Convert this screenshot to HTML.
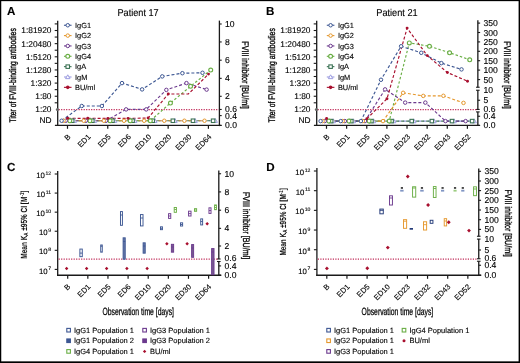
<!DOCTYPE html><html><head><meta charset="utf-8"><style>html,body{margin:0;padding:0;background:#fff;}svg{display:block;will-change:transform;text-rendering:geometricPrecision;}</style></head><body>
<svg width="520" height="363" viewBox="0 0 520 363" font-family='"Liberation Sans", sans-serif'>
<rect x="0" y="0" width="520" height="363" fill="#fff"/>
<text x="7.00" y="15.30" font-size="11.6" text-anchor="start" font-weight="bold" fill="#000" stroke="#000" stroke-width="0.12">A</text>
<text x="117.50" y="15.80" font-size="10.0" text-anchor="start" font-weight="normal" fill="#000" stroke="#000" stroke-width="0.12" textLength="41.20" lengthAdjust="spacingAndGlyphs">Patient 17</text>
<text x="0.00" y="0.00" font-size="9.6" text-anchor="start" font-weight="normal" fill="#000" stroke="#000" stroke-width="0.32" textLength="94.30" lengthAdjust="spacingAndGlyphs" transform="translate(15.50,122.5) rotate(-90)">Titer of FVIII-binding antibodies</text>
<line x1="57.70" y1="20.80" x2="57.70" y2="126.10" stroke="#1a1a1a" stroke-width="1.3" stroke-linecap="butt"/>
<line x1="54.70" y1="30.50" x2="57.70" y2="30.50" stroke="#1a1a1a" stroke-width="1.1" stroke-linecap="butt"/>
<text x="51.50" y="33.45" font-size="8.35" text-anchor="end" font-weight="normal" fill="#000" stroke="#000" stroke-width="0.12">1:81920</text>
<line x1="54.70" y1="43.65" x2="57.70" y2="43.65" stroke="#1a1a1a" stroke-width="1.1" stroke-linecap="butt"/>
<text x="51.50" y="46.60" font-size="8.35" text-anchor="end" font-weight="normal" fill="#000" stroke="#000" stroke-width="0.12">1:20480</text>
<line x1="54.70" y1="56.80" x2="57.70" y2="56.80" stroke="#1a1a1a" stroke-width="1.1" stroke-linecap="butt"/>
<text x="51.50" y="59.75" font-size="8.35" text-anchor="end" font-weight="normal" fill="#000" stroke="#000" stroke-width="0.12">1:5120</text>
<line x1="54.70" y1="69.95" x2="57.70" y2="69.95" stroke="#1a1a1a" stroke-width="1.1" stroke-linecap="butt"/>
<text x="51.50" y="72.90" font-size="8.35" text-anchor="end" font-weight="normal" fill="#000" stroke="#000" stroke-width="0.12">1:1280</text>
<line x1="54.70" y1="83.10" x2="57.70" y2="83.10" stroke="#1a1a1a" stroke-width="1.1" stroke-linecap="butt"/>
<text x="51.50" y="86.05" font-size="8.35" text-anchor="end" font-weight="normal" fill="#000" stroke="#000" stroke-width="0.12">1:320</text>
<line x1="54.70" y1="96.25" x2="57.70" y2="96.25" stroke="#1a1a1a" stroke-width="1.1" stroke-linecap="butt"/>
<text x="51.50" y="99.20" font-size="8.35" text-anchor="end" font-weight="normal" fill="#000" stroke="#000" stroke-width="0.12">1:80</text>
<text x="51.50" y="112.35" font-size="8.35" text-anchor="end" font-weight="normal" fill="#000" stroke="#000" stroke-width="0.12">1:20</text>
<line x1="54.70" y1="23.90" x2="57.70" y2="23.90" stroke="#1a1a1a" stroke-width="1.1" stroke-linecap="butt"/>
<line x1="54.70" y1="37.05" x2="57.70" y2="37.05" stroke="#1a1a1a" stroke-width="1.1" stroke-linecap="butt"/>
<line x1="54.70" y1="50.20" x2="57.70" y2="50.20" stroke="#1a1a1a" stroke-width="1.1" stroke-linecap="butt"/>
<line x1="54.70" y1="63.35" x2="57.70" y2="63.35" stroke="#1a1a1a" stroke-width="1.1" stroke-linecap="butt"/>
<line x1="54.70" y1="76.50" x2="57.70" y2="76.50" stroke="#1a1a1a" stroke-width="1.1" stroke-linecap="butt"/>
<line x1="54.70" y1="89.65" x2="57.70" y2="89.65" stroke="#1a1a1a" stroke-width="1.1" stroke-linecap="butt"/>
<line x1="54.70" y1="102.80" x2="57.70" y2="102.80" stroke="#1a1a1a" stroke-width="1.1" stroke-linecap="butt"/>
<text x="51.50" y="123.00" font-size="8.35" text-anchor="end" font-weight="normal" fill="#000" stroke="#000" stroke-width="0.12">ND</text>
<line x1="54.90" y1="125.45" x2="221.40" y2="125.45" stroke="#1a1a1a" stroke-width="1.3" stroke-linecap="butt"/>
<line x1="67.50" y1="125.40" x2="67.50" y2="128.80" stroke="#1a1a1a" stroke-width="1.2" stroke-linecap="butt"/>
<text x="0.00" y="0.00" font-size="7.6" text-anchor="end" font-weight="normal" fill="#000" stroke="#000" stroke-width="0.12" transform="translate(71.10,137.3) rotate(-45)">B</text>
<line x1="87.63" y1="125.40" x2="87.63" y2="128.80" stroke="#1a1a1a" stroke-width="1.2" stroke-linecap="butt"/>
<text x="0.00" y="0.00" font-size="7.6" text-anchor="end" font-weight="normal" fill="#000" stroke="#000" stroke-width="0.12" transform="translate(91.23,137.3) rotate(-45)">ED1</text>
<line x1="107.76" y1="125.40" x2="107.76" y2="128.80" stroke="#1a1a1a" stroke-width="1.2" stroke-linecap="butt"/>
<text x="0.00" y="0.00" font-size="7.6" text-anchor="end" font-weight="normal" fill="#000" stroke="#000" stroke-width="0.12" transform="translate(111.36,137.3) rotate(-45)">ED5</text>
<line x1="127.89" y1="125.40" x2="127.89" y2="128.80" stroke="#1a1a1a" stroke-width="1.2" stroke-linecap="butt"/>
<text x="0.00" y="0.00" font-size="7.6" text-anchor="end" font-weight="normal" fill="#000" stroke="#000" stroke-width="0.12" transform="translate(131.49,137.3) rotate(-45)">ED6</text>
<line x1="148.02" y1="125.40" x2="148.02" y2="128.80" stroke="#1a1a1a" stroke-width="1.2" stroke-linecap="butt"/>
<text x="0.00" y="0.00" font-size="7.6" text-anchor="end" font-weight="normal" fill="#000" stroke="#000" stroke-width="0.12" transform="translate(151.62,137.3) rotate(-45)">ED10</text>
<line x1="168.15" y1="125.40" x2="168.15" y2="128.80" stroke="#1a1a1a" stroke-width="1.2" stroke-linecap="butt"/>
<text x="0.00" y="0.00" font-size="7.6" text-anchor="end" font-weight="normal" fill="#000" stroke="#000" stroke-width="0.12" transform="translate(171.75,137.3) rotate(-45)">ED20</text>
<line x1="188.28" y1="125.40" x2="188.28" y2="128.80" stroke="#1a1a1a" stroke-width="1.2" stroke-linecap="butt"/>
<text x="0.00" y="0.00" font-size="7.6" text-anchor="end" font-weight="normal" fill="#000" stroke="#000" stroke-width="0.12" transform="translate(191.88,137.3) rotate(-45)">ED30</text>
<line x1="208.41" y1="125.40" x2="208.41" y2="128.80" stroke="#1a1a1a" stroke-width="1.2" stroke-linecap="butt"/>
<text x="0.00" y="0.00" font-size="7.6" text-anchor="end" font-weight="normal" fill="#000" stroke="#000" stroke-width="0.12" transform="translate(212.01,137.3) rotate(-45)">ED64</text>
<line x1="219.40" y1="20.60" x2="219.40" y2="126.10" stroke="#1a1a1a" stroke-width="1.3" stroke-linecap="butt"/>
<line x1="219.40" y1="24.00" x2="221.70" y2="24.00" stroke="#1a1a1a" stroke-width="1.1" stroke-linecap="butt"/>
<text x="225.10" y="27.00" font-size="8.6" text-anchor="start" font-weight="normal" fill="#000" stroke="#000" stroke-width="0.12">10</text>
<line x1="219.40" y1="41.95" x2="221.70" y2="41.95" stroke="#1a1a1a" stroke-width="1.1" stroke-linecap="butt"/>
<text x="225.10" y="44.95" font-size="8.6" text-anchor="start" font-weight="normal" fill="#000" stroke="#000" stroke-width="0.12">8</text>
<line x1="219.40" y1="60.20" x2="221.70" y2="60.20" stroke="#1a1a1a" stroke-width="1.1" stroke-linecap="butt"/>
<text x="225.10" y="63.20" font-size="8.6" text-anchor="start" font-weight="normal" fill="#000" stroke="#000" stroke-width="0.12">6</text>
<line x1="219.40" y1="78.35" x2="221.70" y2="78.35" stroke="#1a1a1a" stroke-width="1.1" stroke-linecap="butt"/>
<text x="225.10" y="81.35" font-size="8.6" text-anchor="start" font-weight="normal" fill="#000" stroke="#000" stroke-width="0.12">4</text>
<line x1="219.40" y1="96.30" x2="221.70" y2="96.30" stroke="#1a1a1a" stroke-width="1.1" stroke-linecap="butt"/>
<text x="225.10" y="99.30" font-size="8.6" text-anchor="start" font-weight="normal" fill="#000" stroke="#000" stroke-width="0.12">2</text>
<line x1="219.40" y1="109.45" x2="221.70" y2="109.45" stroke="#1a1a1a" stroke-width="1.1" stroke-linecap="butt"/>
<text x="225.10" y="111.85" font-size="8.6" text-anchor="start" font-weight="normal" fill="#000" stroke="#000" stroke-width="0.12">0.6</text>
<line x1="219.40" y1="115.60" x2="221.70" y2="115.60" stroke="#1a1a1a" stroke-width="1.1" stroke-linecap="butt"/>
<text x="225.10" y="118.60" font-size="8.6" text-anchor="start" font-weight="normal" fill="#000" stroke="#000" stroke-width="0.12">0.4</text>
<line x1="219.40" y1="125.45" x2="221.70" y2="125.45" stroke="#1a1a1a" stroke-width="1.1" stroke-linecap="butt"/>
<text x="225.10" y="128.45" font-size="8.6" text-anchor="start" font-weight="normal" fill="#000" stroke="#000" stroke-width="0.12">0.0</text>
<text x="0.00" y="0.00" font-size="9.6" text-anchor="start" font-weight="normal" fill="#000" stroke="#000" stroke-width="0.32" textLength="67.50" lengthAdjust="spacingAndGlyphs" transform="translate(242.20,41.3) rotate(90)">FVIII inhibitor [BU/ml]</text>
<line x1="58.60" y1="109.55" x2="218.80" y2="109.55" stroke="#c02a58" stroke-width="1.25" stroke-linecap="butt" stroke-dasharray="1.2,1.3"/>
<circle cx="57.40" cy="109.55" r="1.55" fill="#666"/>
<line x1="63.95" y1="25.25" x2="71.55" y2="25.25" stroke="#3d5793" stroke-width="1.1" stroke-linecap="butt"/>
<circle cx="67.75" cy="25.25" r="1.75" fill="#fff" stroke="#3d5793" stroke-width="1.0"/>
<text x="75.05" y="27.90" font-size="7.4" text-anchor="start" font-weight="normal" fill="#000" stroke="#000" stroke-width="0.12">IgG1</text>
<line x1="63.95" y1="35.60" x2="71.55" y2="35.60" stroke="#e5982e" stroke-width="1.1" stroke-linecap="butt"/>
<circle cx="67.75" cy="35.60" r="1.75" fill="#fff" stroke="#e5982e" stroke-width="1.0"/>
<text x="75.05" y="38.25" font-size="7.4" text-anchor="start" font-weight="normal" fill="#000" stroke="#000" stroke-width="0.12">IgG2</text>
<line x1="63.95" y1="45.95" x2="71.55" y2="45.95" stroke="#6c3a8e" stroke-width="1.1" stroke-linecap="butt"/>
<circle cx="67.75" cy="45.95" r="1.75" fill="#fff" stroke="#6c3a8e" stroke-width="1.0"/>
<text x="75.05" y="48.60" font-size="7.4" text-anchor="start" font-weight="normal" fill="#000" stroke="#000" stroke-width="0.12">IgG3</text>
<line x1="63.95" y1="56.30" x2="71.55" y2="56.30" stroke="#6aae45" stroke-width="1.1" stroke-linecap="butt"/>
<circle cx="67.75" cy="56.30" r="1.95" fill="#fff" stroke="#6aae45" stroke-width="1.15"/>
<text x="75.05" y="58.95" font-size="7.4" text-anchor="start" font-weight="normal" fill="#000" stroke="#000" stroke-width="0.12">IgG4</text>
<line x1="63.95" y1="66.65" x2="71.55" y2="66.65" stroke="#3c7355" stroke-width="1.1" stroke-linecap="butt"/>
<rect x="66.00" y="64.90" width="3.50" height="3.50" fill="#fff" stroke="#3c7355" stroke-width="1.1"/>
<text x="75.05" y="69.30" font-size="7.4" text-anchor="start" font-weight="normal" fill="#000" stroke="#000" stroke-width="0.12">IgA</text>
<line x1="63.95" y1="77.00" x2="71.55" y2="77.00" stroke="#9c9ce0" stroke-width="1.1" stroke-linecap="butt"/>
<polygon points="67.75,74.80 69.95,78.65 65.55,78.65" fill="#fff" stroke="#9c9ce0" stroke-width="1.0"/>
<text x="75.05" y="79.65" font-size="7.4" text-anchor="start" font-weight="normal" fill="#000" stroke="#000" stroke-width="0.12">IgM</text>
<line x1="63.95" y1="87.35" x2="71.55" y2="87.35" stroke="#a80f2e" stroke-width="1.1" stroke-linecap="butt"/>
<circle cx="67.75" cy="87.35" r="1.8" fill="#a80f2e"/>
<text x="75.05" y="90.00" font-size="7.4" text-anchor="start" font-weight="normal" fill="#000" stroke="#000" stroke-width="0.12">BU/ml</text>
<polyline points="74.30,120.75 94.43,120.75 114.56,120.75 134.69,120.75 154.82,120.75 174.95,120.75 195.08,120.75 215.21,120.75" fill="none" stroke="#9c9ce0" stroke-width="1.15" stroke-dasharray="3,2"/>
<polyline points="72.20,120.75 92.33,120.75 112.46,120.75 132.59,120.75 152.72,120.75 172.85,120.75 192.98,120.75 213.11,120.75" fill="none" stroke="#3c7355" stroke-width="1.15" stroke-dasharray="3,2"/>
<polyline points="69.80,120.75 89.93,120.75 110.06,120.75 130.19,120.75 150.32,120.75 170.45,103.00 190.58,86.25 210.71,70.00" fill="none" stroke="#6aae45" stroke-width="1.15" stroke-dasharray="2.5,2"/>
<polyline points="65.70,120.75 85.83,120.75 105.96,120.75 126.09,109.40 146.22,109.40 166.35,89.90 186.48,83.10 206.61,89.60" fill="none" stroke="#6c3a8e" stroke-width="1.15" stroke-dasharray="3,2"/>
<polyline points="63.60,120.75 83.73,120.75 103.86,120.75 123.99,120.75 144.12,120.75 164.25,120.75 184.38,120.75 204.51,120.75" fill="none" stroke="#e5982e" stroke-width="1.15" stroke-dasharray="3,2"/>
<polyline points="61.60,120.75 81.73,106.00 101.86,106.00 121.99,83.10 142.12,89.40 162.25,76.40 182.38,73.20 202.51,72.80" fill="none" stroke="#3d5793" stroke-width="1.15" stroke-dasharray="3,2"/>
<polyline points="67.60,118.30 87.73,118.30 107.86,118.40 127.99,118.40 148.12,118.00 168.25,94.00 188.38,94.00 208.51,74.10" fill="none" stroke="#a80f2e" stroke-width="1.15" stroke-dasharray="3,2"/>
<polygon points="74.30,118.55 76.50,122.40 72.10,122.40" fill="#fff" stroke="#9c9ce0" stroke-width="1.0"/>
<polygon points="94.43,118.55 96.63,122.40 92.23,122.40" fill="#fff" stroke="#9c9ce0" stroke-width="1.0"/>
<polygon points="114.56,118.55 116.76,122.40 112.36,122.40" fill="#fff" stroke="#9c9ce0" stroke-width="1.0"/>
<polygon points="134.69,118.55 136.89,122.40 132.49,122.40" fill="#fff" stroke="#9c9ce0" stroke-width="1.0"/>
<polygon points="154.82,118.55 157.02,122.40 152.62,122.40" fill="#fff" stroke="#9c9ce0" stroke-width="1.0"/>
<polygon points="174.95,118.55 177.15,122.40 172.75,122.40" fill="#fff" stroke="#9c9ce0" stroke-width="1.0"/>
<polygon points="195.08,118.55 197.28,122.40 192.88,122.40" fill="#fff" stroke="#9c9ce0" stroke-width="1.0"/>
<polygon points="215.21,118.55 217.41,122.40 213.01,122.40" fill="#fff" stroke="#9c9ce0" stroke-width="1.0"/>
<rect x="70.45" y="119.00" width="3.50" height="3.50" fill="#fff" stroke="#3c7355" stroke-width="1.1"/>
<rect x="90.58" y="119.00" width="3.50" height="3.50" fill="#fff" stroke="#3c7355" stroke-width="1.1"/>
<rect x="110.71" y="119.00" width="3.50" height="3.50" fill="#fff" stroke="#3c7355" stroke-width="1.1"/>
<rect x="130.84" y="119.00" width="3.50" height="3.50" fill="#fff" stroke="#3c7355" stroke-width="1.1"/>
<rect x="150.97" y="119.00" width="3.50" height="3.50" fill="#fff" stroke="#3c7355" stroke-width="1.1"/>
<rect x="171.10" y="119.00" width="3.50" height="3.50" fill="#fff" stroke="#3c7355" stroke-width="1.1"/>
<rect x="191.23" y="119.00" width="3.50" height="3.50" fill="#fff" stroke="#3c7355" stroke-width="1.1"/>
<rect x="211.36" y="119.00" width="3.50" height="3.50" fill="#fff" stroke="#3c7355" stroke-width="1.1"/>
<circle cx="69.80" cy="120.75" r="1.95" fill="#fff" stroke="#6aae45" stroke-width="1.15"/>
<circle cx="89.93" cy="120.75" r="1.95" fill="#fff" stroke="#6aae45" stroke-width="1.15"/>
<circle cx="110.06" cy="120.75" r="1.95" fill="#fff" stroke="#6aae45" stroke-width="1.15"/>
<circle cx="130.19" cy="120.75" r="1.95" fill="#fff" stroke="#6aae45" stroke-width="1.15"/>
<circle cx="150.32" cy="120.75" r="1.95" fill="#fff" stroke="#6aae45" stroke-width="1.15"/>
<circle cx="170.45" cy="103.00" r="1.95" fill="#fff" stroke="#6aae45" stroke-width="1.15"/>
<circle cx="190.58" cy="86.25" r="1.95" fill="#fff" stroke="#6aae45" stroke-width="1.15"/>
<circle cx="210.71" cy="70.00" r="1.95" fill="#fff" stroke="#6aae45" stroke-width="1.15"/>
<circle cx="65.70" cy="120.75" r="1.75" fill="#fff" stroke="#6c3a8e" stroke-width="1.0"/>
<circle cx="85.83" cy="120.75" r="1.75" fill="#fff" stroke="#6c3a8e" stroke-width="1.0"/>
<circle cx="105.96" cy="120.75" r="1.75" fill="#fff" stroke="#6c3a8e" stroke-width="1.0"/>
<circle cx="126.09" cy="109.40" r="1.75" fill="#fff" stroke="#6c3a8e" stroke-width="1.0"/>
<circle cx="146.22" cy="109.40" r="1.75" fill="#fff" stroke="#6c3a8e" stroke-width="1.0"/>
<circle cx="166.35" cy="89.90" r="1.75" fill="#fff" stroke="#6c3a8e" stroke-width="1.0"/>
<circle cx="186.48" cy="83.10" r="1.75" fill="#fff" stroke="#6c3a8e" stroke-width="1.0"/>
<circle cx="206.61" cy="89.60" r="1.75" fill="#fff" stroke="#6c3a8e" stroke-width="1.0"/>
<circle cx="63.60" cy="120.75" r="1.75" fill="#fff" stroke="#e5982e" stroke-width="1.0"/>
<circle cx="83.73" cy="120.75" r="1.75" fill="#fff" stroke="#e5982e" stroke-width="1.0"/>
<circle cx="103.86" cy="120.75" r="1.75" fill="#fff" stroke="#e5982e" stroke-width="1.0"/>
<circle cx="123.99" cy="120.75" r="1.75" fill="#fff" stroke="#e5982e" stroke-width="1.0"/>
<circle cx="144.12" cy="120.75" r="1.75" fill="#fff" stroke="#e5982e" stroke-width="1.0"/>
<circle cx="164.25" cy="120.75" r="1.75" fill="#fff" stroke="#e5982e" stroke-width="1.0"/>
<circle cx="184.38" cy="120.75" r="1.75" fill="#fff" stroke="#e5982e" stroke-width="1.0"/>
<circle cx="204.51" cy="120.75" r="1.75" fill="#fff" stroke="#e5982e" stroke-width="1.0"/>
<circle cx="61.60" cy="120.75" r="1.75" fill="#fff" stroke="#3d5793" stroke-width="1.0"/>
<circle cx="81.73" cy="106.00" r="1.75" fill="#fff" stroke="#3d5793" stroke-width="1.0"/>
<circle cx="101.86" cy="106.00" r="1.75" fill="#fff" stroke="#3d5793" stroke-width="1.0"/>
<circle cx="121.99" cy="83.10" r="1.75" fill="#fff" stroke="#3d5793" stroke-width="1.0"/>
<circle cx="142.12" cy="89.40" r="1.75" fill="#fff" stroke="#3d5793" stroke-width="1.0"/>
<circle cx="162.25" cy="76.40" r="1.75" fill="#fff" stroke="#3d5793" stroke-width="1.0"/>
<circle cx="182.38" cy="73.20" r="1.75" fill="#fff" stroke="#3d5793" stroke-width="1.0"/>
<circle cx="202.51" cy="72.80" r="1.75" fill="#fff" stroke="#3d5793" stroke-width="1.0"/>
<circle cx="67.60" cy="118.30" r="1.45" fill="#a80f2e"/>
<circle cx="87.73" cy="118.30" r="1.45" fill="#a80f2e"/>
<circle cx="107.86" cy="118.40" r="1.45" fill="#a80f2e"/>
<circle cx="127.99" cy="118.40" r="1.45" fill="#a80f2e"/>
<circle cx="148.12" cy="118.00" r="1.45" fill="#a80f2e"/>
<circle cx="168.25" cy="94.00" r="1.45" fill="#a80f2e"/>
<circle cx="208.51" cy="74.10" r="1.45" fill="#a80f2e"/>
<text x="266.00" y="15.30" font-size="11.6" text-anchor="start" font-weight="bold" fill="#000" stroke="#000" stroke-width="0.12">B</text>
<text x="376.25" y="15.80" font-size="10.0" text-anchor="start" font-weight="normal" fill="#000" stroke="#000" stroke-width="0.12" textLength="41.50" lengthAdjust="spacingAndGlyphs">Patient 21</text>
<text x="0.00" y="0.00" font-size="9.6" text-anchor="start" font-weight="normal" fill="#000" stroke="#000" stroke-width="0.32" textLength="94.30" lengthAdjust="spacingAndGlyphs" transform="translate(274.50,122.5) rotate(-90)">Titer of FVIII-binding antibodies</text>
<line x1="316.70" y1="20.80" x2="316.70" y2="126.10" stroke="#1a1a1a" stroke-width="1.3" stroke-linecap="butt"/>
<line x1="313.70" y1="30.50" x2="316.70" y2="30.50" stroke="#1a1a1a" stroke-width="1.1" stroke-linecap="butt"/>
<text x="310.50" y="33.45" font-size="8.35" text-anchor="end" font-weight="normal" fill="#000" stroke="#000" stroke-width="0.12">1:81920</text>
<line x1="313.70" y1="43.65" x2="316.70" y2="43.65" stroke="#1a1a1a" stroke-width="1.1" stroke-linecap="butt"/>
<text x="310.50" y="46.60" font-size="8.35" text-anchor="end" font-weight="normal" fill="#000" stroke="#000" stroke-width="0.12">1:20480</text>
<line x1="313.70" y1="56.80" x2="316.70" y2="56.80" stroke="#1a1a1a" stroke-width="1.1" stroke-linecap="butt"/>
<text x="310.50" y="59.75" font-size="8.35" text-anchor="end" font-weight="normal" fill="#000" stroke="#000" stroke-width="0.12">1:5120</text>
<line x1="313.70" y1="69.95" x2="316.70" y2="69.95" stroke="#1a1a1a" stroke-width="1.1" stroke-linecap="butt"/>
<text x="310.50" y="72.90" font-size="8.35" text-anchor="end" font-weight="normal" fill="#000" stroke="#000" stroke-width="0.12">1:1280</text>
<line x1="313.70" y1="83.10" x2="316.70" y2="83.10" stroke="#1a1a1a" stroke-width="1.1" stroke-linecap="butt"/>
<text x="310.50" y="86.05" font-size="8.35" text-anchor="end" font-weight="normal" fill="#000" stroke="#000" stroke-width="0.12">1:320</text>
<line x1="313.70" y1="96.25" x2="316.70" y2="96.25" stroke="#1a1a1a" stroke-width="1.1" stroke-linecap="butt"/>
<text x="310.50" y="99.20" font-size="8.35" text-anchor="end" font-weight="normal" fill="#000" stroke="#000" stroke-width="0.12">1:80</text>
<text x="310.50" y="112.35" font-size="8.35" text-anchor="end" font-weight="normal" fill="#000" stroke="#000" stroke-width="0.12">1:20</text>
<line x1="313.70" y1="23.90" x2="316.70" y2="23.90" stroke="#1a1a1a" stroke-width="1.1" stroke-linecap="butt"/>
<line x1="313.70" y1="37.05" x2="316.70" y2="37.05" stroke="#1a1a1a" stroke-width="1.1" stroke-linecap="butt"/>
<line x1="313.70" y1="50.20" x2="316.70" y2="50.20" stroke="#1a1a1a" stroke-width="1.1" stroke-linecap="butt"/>
<line x1="313.70" y1="63.35" x2="316.70" y2="63.35" stroke="#1a1a1a" stroke-width="1.1" stroke-linecap="butt"/>
<line x1="313.70" y1="76.50" x2="316.70" y2="76.50" stroke="#1a1a1a" stroke-width="1.1" stroke-linecap="butt"/>
<line x1="313.70" y1="89.65" x2="316.70" y2="89.65" stroke="#1a1a1a" stroke-width="1.1" stroke-linecap="butt"/>
<line x1="313.70" y1="102.80" x2="316.70" y2="102.80" stroke="#1a1a1a" stroke-width="1.1" stroke-linecap="butt"/>
<text x="310.50" y="123.00" font-size="8.35" text-anchor="end" font-weight="normal" fill="#000" stroke="#000" stroke-width="0.12">ND</text>
<line x1="313.90" y1="125.45" x2="479.85" y2="125.45" stroke="#1a1a1a" stroke-width="1.3" stroke-linecap="butt"/>
<line x1="326.50" y1="125.40" x2="326.50" y2="128.80" stroke="#1a1a1a" stroke-width="1.2" stroke-linecap="butt"/>
<text x="0.00" y="0.00" font-size="7.6" text-anchor="end" font-weight="normal" fill="#000" stroke="#000" stroke-width="0.12" transform="translate(330.10,137.3) rotate(-45)">B</text>
<line x1="346.63" y1="125.40" x2="346.63" y2="128.80" stroke="#1a1a1a" stroke-width="1.2" stroke-linecap="butt"/>
<text x="0.00" y="0.00" font-size="7.6" text-anchor="end" font-weight="normal" fill="#000" stroke="#000" stroke-width="0.12" transform="translate(350.23,137.3) rotate(-45)">ED1</text>
<line x1="366.76" y1="125.40" x2="366.76" y2="128.80" stroke="#1a1a1a" stroke-width="1.2" stroke-linecap="butt"/>
<text x="0.00" y="0.00" font-size="7.6" text-anchor="end" font-weight="normal" fill="#000" stroke="#000" stroke-width="0.12" transform="translate(370.36,137.3) rotate(-45)">ED5</text>
<line x1="386.89" y1="125.40" x2="386.89" y2="128.80" stroke="#1a1a1a" stroke-width="1.2" stroke-linecap="butt"/>
<text x="0.00" y="0.00" font-size="7.6" text-anchor="end" font-weight="normal" fill="#000" stroke="#000" stroke-width="0.12" transform="translate(390.49,137.3) rotate(-45)">ED10</text>
<line x1="407.02" y1="125.40" x2="407.02" y2="128.80" stroke="#1a1a1a" stroke-width="1.2" stroke-linecap="butt"/>
<text x="0.00" y="0.00" font-size="7.6" text-anchor="end" font-weight="normal" fill="#000" stroke="#000" stroke-width="0.12" transform="translate(410.62,137.3) rotate(-45)">ED23</text>
<line x1="427.15" y1="125.40" x2="427.15" y2="128.80" stroke="#1a1a1a" stroke-width="1.2" stroke-linecap="butt"/>
<text x="0.00" y="0.00" font-size="7.6" text-anchor="end" font-weight="normal" fill="#000" stroke="#000" stroke-width="0.12" transform="translate(430.75,137.3) rotate(-45)">ED32</text>
<line x1="447.28" y1="125.40" x2="447.28" y2="128.80" stroke="#1a1a1a" stroke-width="1.2" stroke-linecap="butt"/>
<text x="0.00" y="0.00" font-size="7.6" text-anchor="end" font-weight="normal" fill="#000" stroke="#000" stroke-width="0.12" transform="translate(450.88,137.3) rotate(-45)">ED43</text>
<line x1="467.41" y1="125.40" x2="467.41" y2="128.80" stroke="#1a1a1a" stroke-width="1.2" stroke-linecap="butt"/>
<text x="0.00" y="0.00" font-size="7.6" text-anchor="end" font-weight="normal" fill="#000" stroke="#000" stroke-width="0.12" transform="translate(471.01,137.3) rotate(-45)">ED52</text>
<line x1="477.85" y1="20.25" x2="477.85" y2="87.25" stroke="#1a1a1a" stroke-width="1.3" stroke-linecap="butt"/>
<line x1="477.85" y1="90.25" x2="477.85" y2="109.45" stroke="#1a1a1a" stroke-width="1.3" stroke-linecap="butt"/>
<line x1="477.85" y1="111.90" x2="477.85" y2="126.10" stroke="#1a1a1a" stroke-width="1.3" stroke-linecap="butt"/>
<line x1="476.05" y1="87.25" x2="479.65" y2="87.25" stroke="#1a1a1a" stroke-width="1.1" stroke-linecap="butt"/>
<line x1="476.05" y1="90.25" x2="479.65" y2="90.25" stroke="#1a1a1a" stroke-width="1.1" stroke-linecap="butt"/>
<line x1="476.05" y1="109.45" x2="479.65" y2="109.45" stroke="#1a1a1a" stroke-width="1.1" stroke-linecap="butt"/>
<line x1="476.05" y1="111.90" x2="479.65" y2="111.90" stroke="#1a1a1a" stroke-width="1.1" stroke-linecap="butt"/>
<line x1="477.85" y1="23.10" x2="480.15" y2="23.10" stroke="#1a1a1a" stroke-width="1.1" stroke-linecap="butt"/>
<text x="483.55" y="26.10" font-size="8.6" text-anchor="start" font-weight="normal" fill="#000" stroke="#000" stroke-width="0.12">350</text>
<line x1="477.85" y1="32.50" x2="480.15" y2="32.50" stroke="#1a1a1a" stroke-width="1.1" stroke-linecap="butt"/>
<text x="483.55" y="35.50" font-size="8.6" text-anchor="start" font-weight="normal" fill="#000" stroke="#000" stroke-width="0.12">300</text>
<line x1="477.85" y1="41.90" x2="480.15" y2="41.90" stroke="#1a1a1a" stroke-width="1.1" stroke-linecap="butt"/>
<text x="483.55" y="44.90" font-size="8.6" text-anchor="start" font-weight="normal" fill="#000" stroke="#000" stroke-width="0.12">250</text>
<line x1="477.85" y1="51.30" x2="480.15" y2="51.30" stroke="#1a1a1a" stroke-width="1.1" stroke-linecap="butt"/>
<text x="483.55" y="54.30" font-size="8.6" text-anchor="start" font-weight="normal" fill="#000" stroke="#000" stroke-width="0.12">200</text>
<line x1="477.85" y1="60.70" x2="480.15" y2="60.70" stroke="#1a1a1a" stroke-width="1.1" stroke-linecap="butt"/>
<text x="483.55" y="63.70" font-size="8.6" text-anchor="start" font-weight="normal" fill="#000" stroke="#000" stroke-width="0.12">150</text>
<line x1="477.85" y1="70.10" x2="480.15" y2="70.10" stroke="#1a1a1a" stroke-width="1.1" stroke-linecap="butt"/>
<text x="483.55" y="73.10" font-size="8.6" text-anchor="start" font-weight="normal" fill="#000" stroke="#000" stroke-width="0.12">100</text>
<line x1="477.85" y1="79.60" x2="480.15" y2="79.60" stroke="#1a1a1a" stroke-width="1.1" stroke-linecap="butt"/>
<text x="483.55" y="82.60" font-size="8.6" text-anchor="start" font-weight="normal" fill="#000" stroke="#000" stroke-width="0.12">50</text>
<line x1="477.85" y1="100.25" x2="480.15" y2="100.25" stroke="#1a1a1a" stroke-width="1.1" stroke-linecap="butt"/>
<text x="483.55" y="103.25" font-size="8.6" text-anchor="start" font-weight="normal" fill="#000" stroke="#000" stroke-width="0.12">5</text>
<line x1="477.85" y1="116.25" x2="480.15" y2="116.25" stroke="#1a1a1a" stroke-width="1.1" stroke-linecap="butt"/>
<text x="483.55" y="119.25" font-size="8.6" text-anchor="start" font-weight="normal" fill="#000" stroke="#000" stroke-width="0.12">0.4</text>
<line x1="477.85" y1="125.45" x2="480.15" y2="125.45" stroke="#1a1a1a" stroke-width="1.1" stroke-linecap="butt"/>
<text x="483.55" y="128.45" font-size="8.6" text-anchor="start" font-weight="normal" fill="#000" stroke="#000" stroke-width="0.12">0.0</text>
<text x="483.55" y="93.25" font-size="8.6" text-anchor="start" font-weight="normal" fill="#000" stroke="#000" stroke-width="0.12">10</text>
<text x="483.55" y="111.75" font-size="8.6" text-anchor="start" font-weight="normal" fill="#000" stroke="#000" stroke-width="0.12">0.6</text>
<text x="0.00" y="0.00" font-size="9.6" text-anchor="start" font-weight="normal" fill="#000" stroke="#000" stroke-width="0.32" textLength="67.50" lengthAdjust="spacingAndGlyphs" transform="translate(503.90,41.3) rotate(90)">FVIII inhibitor [BU/ml]</text>
<line x1="317.60" y1="109.55" x2="477.25" y2="109.55" stroke="#c02a58" stroke-width="1.25" stroke-linecap="butt" stroke-dasharray="1.2,1.3"/>
<circle cx="316.40" cy="109.55" r="1.55" fill="#666"/>
<line x1="326.80" y1="25.25" x2="334.40" y2="25.25" stroke="#3d5793" stroke-width="1.1" stroke-linecap="butt"/>
<circle cx="330.60" cy="25.25" r="1.75" fill="#fff" stroke="#3d5793" stroke-width="1.0"/>
<text x="337.90" y="27.90" font-size="7.4" text-anchor="start" font-weight="normal" fill="#000" stroke="#000" stroke-width="0.12">IgG1</text>
<line x1="326.80" y1="35.60" x2="334.40" y2="35.60" stroke="#e5982e" stroke-width="1.1" stroke-linecap="butt"/>
<circle cx="330.60" cy="35.60" r="1.75" fill="#fff" stroke="#e5982e" stroke-width="1.0"/>
<text x="337.90" y="38.25" font-size="7.4" text-anchor="start" font-weight="normal" fill="#000" stroke="#000" stroke-width="0.12">IgG2</text>
<line x1="326.80" y1="45.95" x2="334.40" y2="45.95" stroke="#6c3a8e" stroke-width="1.1" stroke-linecap="butt"/>
<circle cx="330.60" cy="45.95" r="1.75" fill="#fff" stroke="#6c3a8e" stroke-width="1.0"/>
<text x="337.90" y="48.60" font-size="7.4" text-anchor="start" font-weight="normal" fill="#000" stroke="#000" stroke-width="0.12">IgG3</text>
<line x1="326.80" y1="56.30" x2="334.40" y2="56.30" stroke="#6aae45" stroke-width="1.1" stroke-linecap="butt"/>
<circle cx="330.60" cy="56.30" r="1.95" fill="#fff" stroke="#6aae45" stroke-width="1.15"/>
<text x="337.90" y="58.95" font-size="7.4" text-anchor="start" font-weight="normal" fill="#000" stroke="#000" stroke-width="0.12">IgG4</text>
<line x1="326.80" y1="66.65" x2="334.40" y2="66.65" stroke="#3c7355" stroke-width="1.1" stroke-linecap="butt"/>
<rect x="328.85" y="64.90" width="3.50" height="3.50" fill="#fff" stroke="#3c7355" stroke-width="1.1"/>
<text x="337.90" y="69.30" font-size="7.4" text-anchor="start" font-weight="normal" fill="#000" stroke="#000" stroke-width="0.12">IgA</text>
<line x1="326.80" y1="77.00" x2="334.40" y2="77.00" stroke="#9c9ce0" stroke-width="1.1" stroke-linecap="butt"/>
<polygon points="330.60,74.80 332.80,78.65 328.40,78.65" fill="#fff" stroke="#9c9ce0" stroke-width="1.0"/>
<text x="337.90" y="79.65" font-size="7.4" text-anchor="start" font-weight="normal" fill="#000" stroke="#000" stroke-width="0.12">IgM</text>
<line x1="326.80" y1="87.35" x2="334.40" y2="87.35" stroke="#a80f2e" stroke-width="1.1" stroke-linecap="butt"/>
<circle cx="330.60" cy="87.35" r="1.8" fill="#a80f2e"/>
<text x="337.90" y="90.00" font-size="7.4" text-anchor="start" font-weight="normal" fill="#000" stroke="#000" stroke-width="0.12">BU/ml</text>
<polyline points="333.30,121.10 353.43,121.10 373.56,121.10 393.69,121.10 413.82,121.10 433.95,121.10 454.08,121.10 474.21,121.10" fill="none" stroke="#9c9ce0" stroke-width="1.15" stroke-dasharray="3,2"/>
<polyline points="331.20,121.10 351.33,121.10 371.46,121.10 391.59,121.10 411.72,121.10 431.85,121.10 451.98,121.10 472.11,121.10" fill="none" stroke="#3c7355" stroke-width="1.15" stroke-dasharray="3,2"/>
<polyline points="328.80,121.10 348.93,121.10 369.06,121.10 389.19,121.10 409.32,42.90 429.45,46.25 449.58,52.75 469.71,59.75" fill="none" stroke="#6aae45" stroke-width="1.15" stroke-dasharray="2.5,2"/>
<polyline points="324.70,121.10 344.83,121.10 364.96,121.10 385.09,89.40 405.22,102.60 425.35,102.60 445.48,121.10 465.61,121.10" fill="none" stroke="#6c3a8e" stroke-width="1.15" stroke-dasharray="3,2"/>
<polyline points="322.60,121.10 342.73,121.10 362.86,121.10 382.99,121.10 403.12,92.80 423.25,95.90 443.38,95.80 463.51,102.90" fill="none" stroke="#e5982e" stroke-width="1.15" stroke-dasharray="3,2"/>
<polyline points="320.60,121.10 340.73,121.10 360.86,121.10 380.99,79.75 401.12,46.25 421.25,52.80 441.38,63.10 461.51,69.40" fill="none" stroke="#3d5793" stroke-width="1.15" stroke-dasharray="3,2"/>
<polyline points="366.86,118.75 386.99,98.75 407.12,28.10 427.25,55.60 447.38,72.50 467.51,81.25" fill="none" stroke="#a80f2e" stroke-width="1.15" stroke-dasharray="3,2"/>
<polygon points="333.30,118.90 335.50,122.75 331.10,122.75" fill="#fff" stroke="#9c9ce0" stroke-width="1.0"/>
<polygon points="353.43,118.90 355.63,122.75 351.23,122.75" fill="#fff" stroke="#9c9ce0" stroke-width="1.0"/>
<polygon points="373.56,118.90 375.76,122.75 371.36,122.75" fill="#fff" stroke="#9c9ce0" stroke-width="1.0"/>
<polygon points="393.69,118.90 395.89,122.75 391.49,122.75" fill="#fff" stroke="#9c9ce0" stroke-width="1.0"/>
<polygon points="413.82,118.90 416.02,122.75 411.62,122.75" fill="#fff" stroke="#9c9ce0" stroke-width="1.0"/>
<polygon points="433.95,118.90 436.15,122.75 431.75,122.75" fill="#fff" stroke="#9c9ce0" stroke-width="1.0"/>
<polygon points="454.08,118.90 456.28,122.75 451.88,122.75" fill="#fff" stroke="#9c9ce0" stroke-width="1.0"/>
<polygon points="474.21,118.90 476.41,122.75 472.01,122.75" fill="#fff" stroke="#9c9ce0" stroke-width="1.0"/>
<rect x="329.45" y="119.35" width="3.50" height="3.50" fill="#fff" stroke="#3c7355" stroke-width="1.1"/>
<rect x="349.58" y="119.35" width="3.50" height="3.50" fill="#fff" stroke="#3c7355" stroke-width="1.1"/>
<rect x="369.71" y="119.35" width="3.50" height="3.50" fill="#fff" stroke="#3c7355" stroke-width="1.1"/>
<rect x="389.84" y="119.35" width="3.50" height="3.50" fill="#fff" stroke="#3c7355" stroke-width="1.1"/>
<rect x="409.97" y="119.35" width="3.50" height="3.50" fill="#fff" stroke="#3c7355" stroke-width="1.1"/>
<rect x="430.10" y="119.35" width="3.50" height="3.50" fill="#fff" stroke="#3c7355" stroke-width="1.1"/>
<rect x="450.23" y="119.35" width="3.50" height="3.50" fill="#fff" stroke="#3c7355" stroke-width="1.1"/>
<rect x="470.36" y="119.35" width="3.50" height="3.50" fill="#fff" stroke="#3c7355" stroke-width="1.1"/>
<circle cx="328.80" cy="121.10" r="1.95" fill="#fff" stroke="#6aae45" stroke-width="1.15"/>
<circle cx="348.93" cy="121.10" r="1.95" fill="#fff" stroke="#6aae45" stroke-width="1.15"/>
<circle cx="369.06" cy="121.10" r="1.95" fill="#fff" stroke="#6aae45" stroke-width="1.15"/>
<circle cx="389.19" cy="121.10" r="1.95" fill="#fff" stroke="#6aae45" stroke-width="1.15"/>
<circle cx="409.32" cy="42.90" r="1.95" fill="#fff" stroke="#6aae45" stroke-width="1.15"/>
<circle cx="429.45" cy="46.25" r="1.95" fill="#fff" stroke="#6aae45" stroke-width="1.15"/>
<circle cx="449.58" cy="52.75" r="1.95" fill="#fff" stroke="#6aae45" stroke-width="1.15"/>
<circle cx="469.71" cy="59.75" r="1.95" fill="#fff" stroke="#6aae45" stroke-width="1.15"/>
<circle cx="324.70" cy="121.10" r="1.75" fill="#fff" stroke="#6c3a8e" stroke-width="1.0"/>
<circle cx="344.83" cy="121.10" r="1.75" fill="#fff" stroke="#6c3a8e" stroke-width="1.0"/>
<circle cx="364.96" cy="121.10" r="1.75" fill="#fff" stroke="#6c3a8e" stroke-width="1.0"/>
<circle cx="385.09" cy="89.40" r="1.75" fill="#fff" stroke="#6c3a8e" stroke-width="1.0"/>
<circle cx="405.22" cy="102.60" r="1.75" fill="#fff" stroke="#6c3a8e" stroke-width="1.0"/>
<circle cx="425.35" cy="102.60" r="1.75" fill="#fff" stroke="#6c3a8e" stroke-width="1.0"/>
<circle cx="445.48" cy="121.10" r="1.75" fill="#fff" stroke="#6c3a8e" stroke-width="1.0"/>
<circle cx="465.61" cy="121.10" r="1.75" fill="#fff" stroke="#6c3a8e" stroke-width="1.0"/>
<circle cx="322.60" cy="121.10" r="1.75" fill="#fff" stroke="#e5982e" stroke-width="1.0"/>
<circle cx="342.73" cy="121.10" r="1.75" fill="#fff" stroke="#e5982e" stroke-width="1.0"/>
<circle cx="362.86" cy="121.10" r="1.75" fill="#fff" stroke="#e5982e" stroke-width="1.0"/>
<circle cx="382.99" cy="121.10" r="1.75" fill="#fff" stroke="#e5982e" stroke-width="1.0"/>
<circle cx="403.12" cy="92.80" r="1.75" fill="#fff" stroke="#e5982e" stroke-width="1.0"/>
<circle cx="423.25" cy="95.90" r="1.75" fill="#fff" stroke="#e5982e" stroke-width="1.0"/>
<circle cx="443.38" cy="95.80" r="1.75" fill="#fff" stroke="#e5982e" stroke-width="1.0"/>
<circle cx="463.51" cy="102.90" r="1.75" fill="#fff" stroke="#e5982e" stroke-width="1.0"/>
<circle cx="320.60" cy="121.10" r="1.75" fill="#fff" stroke="#3d5793" stroke-width="1.0"/>
<circle cx="340.73" cy="121.10" r="1.75" fill="#fff" stroke="#3d5793" stroke-width="1.0"/>
<circle cx="360.86" cy="121.10" r="1.75" fill="#fff" stroke="#3d5793" stroke-width="1.0"/>
<circle cx="380.99" cy="79.75" r="1.75" fill="#fff" stroke="#3d5793" stroke-width="1.0"/>
<circle cx="401.12" cy="46.25" r="1.75" fill="#fff" stroke="#3d5793" stroke-width="1.0"/>
<circle cx="421.25" cy="52.80" r="1.75" fill="#fff" stroke="#3d5793" stroke-width="1.0"/>
<circle cx="441.38" cy="63.10" r="1.75" fill="#fff" stroke="#3d5793" stroke-width="1.0"/>
<circle cx="461.51" cy="69.40" r="1.75" fill="#fff" stroke="#3d5793" stroke-width="1.0"/>
<circle cx="326.60" cy="118.50" r="1.45" fill="#a80f2e"/>
<circle cx="366.86" cy="118.75" r="1.45" fill="#a80f2e"/>
<circle cx="386.99" cy="98.75" r="1.45" fill="#a80f2e"/>
<circle cx="407.12" cy="28.10" r="1.45" fill="#a80f2e"/>
<circle cx="427.25" cy="55.60" r="1.45" fill="#a80f2e"/>
<circle cx="447.38" cy="72.50" r="1.45" fill="#a80f2e"/>
<circle cx="467.51" cy="81.25" r="1.45" fill="#a80f2e"/>
<text x="7.00" y="170.60" font-size="11.6" text-anchor="start" font-weight="bold" fill="#000" stroke="#000" stroke-width="0.12">C</text>
<line x1="57.70" y1="171.00" x2="57.70" y2="275.90" stroke="#1a1a1a" stroke-width="1.3" stroke-linecap="butt"/>
<line x1="54.70" y1="174.00" x2="57.70" y2="174.00" stroke="#1a1a1a" stroke-width="1.1" stroke-linecap="butt"/>
<text x="51.10" y="178.10" font-size="7.8" text-anchor="end" fill="#000" stroke="#000" stroke-width="0.12">10<tspan font-size="5.1" dx="0.6" dy="-3.3">12</tspan></text>
<line x1="54.70" y1="193.08" x2="57.70" y2="193.08" stroke="#1a1a1a" stroke-width="1.1" stroke-linecap="butt"/>
<text x="51.10" y="197.18" font-size="7.8" text-anchor="end" fill="#000" stroke="#000" stroke-width="0.12">10<tspan font-size="5.1" dx="0.6" dy="-3.3">11</tspan></text>
<line x1="54.70" y1="212.16" x2="57.70" y2="212.16" stroke="#1a1a1a" stroke-width="1.1" stroke-linecap="butt"/>
<text x="51.10" y="216.26" font-size="7.8" text-anchor="end" fill="#000" stroke="#000" stroke-width="0.12">10<tspan font-size="5.1" dx="0.6" dy="-3.3">10</tspan></text>
<line x1="54.70" y1="231.24" x2="57.70" y2="231.24" stroke="#1a1a1a" stroke-width="1.1" stroke-linecap="butt"/>
<text x="51.10" y="235.34" font-size="7.8" text-anchor="end" fill="#000" stroke="#000" stroke-width="0.12">10<tspan font-size="5.1" dx="0.6" dy="-3.3">9</tspan></text>
<line x1="54.70" y1="250.32" x2="57.70" y2="250.32" stroke="#1a1a1a" stroke-width="1.1" stroke-linecap="butt"/>
<text x="51.10" y="254.42" font-size="7.8" text-anchor="end" fill="#000" stroke="#000" stroke-width="0.12">10<tspan font-size="5.1" dx="0.6" dy="-3.3">8</tspan></text>
<line x1="54.70" y1="269.40" x2="57.70" y2="269.40" stroke="#1a1a1a" stroke-width="1.1" stroke-linecap="butt"/>
<text x="51.10" y="273.50" font-size="7.8" text-anchor="end" fill="#000" stroke="#000" stroke-width="0.12">10<tspan font-size="5.1" dx="0.6" dy="-3.3">7</tspan></text>
<line x1="57.05" y1="275.25" x2="221.30" y2="275.25" stroke="#1a1a1a" stroke-width="1.3" stroke-linecap="butt"/>
<line x1="67.70" y1="275.20" x2="67.70" y2="278.80" stroke="#1a1a1a" stroke-width="1.2" stroke-linecap="butt"/>
<text x="0.00" y="0.00" font-size="7.6" text-anchor="end" font-weight="normal" fill="#000" stroke="#000" stroke-width="0.12" transform="translate(70.90,287.2) rotate(-45)">B</text>
<line x1="87.83" y1="275.20" x2="87.83" y2="278.80" stroke="#1a1a1a" stroke-width="1.2" stroke-linecap="butt"/>
<text x="0.00" y="0.00" font-size="7.6" text-anchor="end" font-weight="normal" fill="#000" stroke="#000" stroke-width="0.12" transform="translate(91.03,287.2) rotate(-45)">ED1</text>
<line x1="107.96" y1="275.20" x2="107.96" y2="278.80" stroke="#1a1a1a" stroke-width="1.2" stroke-linecap="butt"/>
<text x="0.00" y="0.00" font-size="7.6" text-anchor="end" font-weight="normal" fill="#000" stroke="#000" stroke-width="0.12" transform="translate(111.16,287.2) rotate(-45)">ED5</text>
<line x1="128.09" y1="275.20" x2="128.09" y2="278.80" stroke="#1a1a1a" stroke-width="1.2" stroke-linecap="butt"/>
<text x="0.00" y="0.00" font-size="7.6" text-anchor="end" font-weight="normal" fill="#000" stroke="#000" stroke-width="0.12" transform="translate(131.29,287.2) rotate(-45)">ED6</text>
<line x1="148.22" y1="275.20" x2="148.22" y2="278.80" stroke="#1a1a1a" stroke-width="1.2" stroke-linecap="butt"/>
<text x="0.00" y="0.00" font-size="7.6" text-anchor="end" font-weight="normal" fill="#000" stroke="#000" stroke-width="0.12" transform="translate(151.42,287.2) rotate(-45)">ED10</text>
<line x1="168.35" y1="275.20" x2="168.35" y2="278.80" stroke="#1a1a1a" stroke-width="1.2" stroke-linecap="butt"/>
<text x="0.00" y="0.00" font-size="7.6" text-anchor="end" font-weight="normal" fill="#000" stroke="#000" stroke-width="0.12" transform="translate(171.55,287.2) rotate(-45)">ED20</text>
<line x1="188.48" y1="275.20" x2="188.48" y2="278.80" stroke="#1a1a1a" stroke-width="1.2" stroke-linecap="butt"/>
<text x="0.00" y="0.00" font-size="7.6" text-anchor="end" font-weight="normal" fill="#000" stroke="#000" stroke-width="0.12" transform="translate(191.68,287.2) rotate(-45)">ED30</text>
<line x1="208.61" y1="275.20" x2="208.61" y2="278.80" stroke="#1a1a1a" stroke-width="1.2" stroke-linecap="butt"/>
<text x="0.00" y="0.00" font-size="7.6" text-anchor="end" font-weight="normal" fill="#000" stroke="#000" stroke-width="0.12" transform="translate(211.81,287.2) rotate(-45)">ED64</text>
<line x1="218.80" y1="170.60" x2="218.80" y2="259.00" stroke="#1a1a1a" stroke-width="1.3" stroke-linecap="butt"/>
<line x1="218.80" y1="261.50" x2="218.80" y2="275.90" stroke="#1a1a1a" stroke-width="1.3" stroke-linecap="butt"/>
<line x1="217.00" y1="259.00" x2="220.60" y2="259.00" stroke="#1a1a1a" stroke-width="1.1" stroke-linecap="butt"/>
<line x1="217.00" y1="261.50" x2="220.60" y2="261.50" stroke="#1a1a1a" stroke-width="1.1" stroke-linecap="butt"/>
<line x1="218.80" y1="173.75" x2="221.10" y2="173.75" stroke="#1a1a1a" stroke-width="1.1" stroke-linecap="butt"/>
<text x="224.50" y="176.75" font-size="8.6" text-anchor="start" font-weight="normal" fill="#000" stroke="#000" stroke-width="0.12">10</text>
<line x1="218.80" y1="191.90" x2="221.10" y2="191.90" stroke="#1a1a1a" stroke-width="1.1" stroke-linecap="butt"/>
<text x="224.50" y="194.90" font-size="8.6" text-anchor="start" font-weight="normal" fill="#000" stroke="#000" stroke-width="0.12">8</text>
<line x1="218.80" y1="210.20" x2="221.10" y2="210.20" stroke="#1a1a1a" stroke-width="1.1" stroke-linecap="butt"/>
<text x="224.50" y="213.20" font-size="8.6" text-anchor="start" font-weight="normal" fill="#000" stroke="#000" stroke-width="0.12">6</text>
<line x1="218.80" y1="228.35" x2="221.10" y2="228.35" stroke="#1a1a1a" stroke-width="1.1" stroke-linecap="butt"/>
<text x="224.50" y="231.35" font-size="8.6" text-anchor="start" font-weight="normal" fill="#000" stroke="#000" stroke-width="0.12">4</text>
<line x1="218.80" y1="246.00" x2="221.10" y2="246.00" stroke="#1a1a1a" stroke-width="1.1" stroke-linecap="butt"/>
<text x="224.50" y="249.00" font-size="8.6" text-anchor="start" font-weight="normal" fill="#000" stroke="#000" stroke-width="0.12">2</text>
<line x1="218.80" y1="265.90" x2="221.10" y2="265.90" stroke="#1a1a1a" stroke-width="1.1" stroke-linecap="butt"/>
<text x="224.50" y="268.90" font-size="8.6" text-anchor="start" font-weight="normal" fill="#000" stroke="#000" stroke-width="0.12">0.4</text>
<line x1="218.80" y1="275.25" x2="221.10" y2="275.25" stroke="#1a1a1a" stroke-width="1.1" stroke-linecap="butt"/>
<text x="224.50" y="278.25" font-size="8.6" text-anchor="start" font-weight="normal" fill="#000" stroke="#000" stroke-width="0.12">0.0</text>
<text x="224.50" y="261.30" font-size="8.6" text-anchor="start" font-weight="normal" fill="#000" stroke="#000" stroke-width="0.12">0.6</text>
<text x="0.00" y="0.00" font-size="9.6" text-anchor="start" font-weight="normal" fill="#000" stroke="#000" stroke-width="0.32" textLength="67.30" lengthAdjust="spacingAndGlyphs" transform="translate(243.20,191.90) rotate(90)">FVIII inhibitor [BU/ml]</text>
<text transform="translate(26.90,258.70) rotate(-90)" font-size="8.9" font-weight="bold" fill="#111" stroke="#111" stroke-width="0.05" textLength="68.20" lengthAdjust="spacingAndGlyphs">Mean K<tspan font-size="6" dy="1.5">A</tspan><tspan dy="-1.5"> ±95% CI [M</tspan><tspan font-size="6" dy="-3.3">-1</tspan><tspan dy="3.3">]</tspan></text>
<text x="102.40" y="314.90" font-size="10.4" text-anchor="start" font-weight="normal" fill="#000" stroke="#000" stroke-width="0.26" textLength="71.60" lengthAdjust="spacingAndGlyphs">Observation time [days]</text>
<line x1="58.60" y1="259.00" x2="217.30" y2="259.00" stroke="#c02a58" stroke-width="1.25" stroke-linecap="butt" stroke-dasharray="1.2,1.3"/>
<rect x="79.88" y="249.07" width="2.40" height="7.60" fill="#fff" stroke="#3d5793" stroke-width="0.95"/>
<line x1="79.90" y1="253.10" x2="82.25" y2="253.10" stroke="#3d5793" stroke-width="0.9"/>
<rect x="100.72" y="244.97" width="1.55" height="7.20" fill="#fff" stroke="#3d5793" stroke-width="0.95"/>
<line x1="100.75" y1="246.30" x2="102.25" y2="246.30" stroke="#3d5793" stroke-width="0.9"/>
<rect x="120.47" y="211.57" width="1.95" height="13.75" fill="#fff" stroke="#3d5793" stroke-width="0.95"/>
<line x1="120.50" y1="215.00" x2="122.40" y2="215.00" stroke="#3d5793" stroke-width="0.9"/>
<rect x="123.12" y="237.82" width="2.10" height="21.35" fill="#6576a8" stroke="#3d5793" stroke-width="0.95"/>
<line x1="123.15" y1="241.50" x2="125.20" y2="241.50" stroke="#3d5793" stroke-width="0.9"/>
<rect x="140.47" y="214.57" width="2.55" height="11.35" fill="#fff" stroke="#3d5793" stroke-width="0.95"/>
<line x1="140.50" y1="218.00" x2="143.00" y2="218.00" stroke="#3d5793" stroke-width="0.9"/>
<rect x="143.12" y="242.82" width="2.10" height="10.35" fill="#6576a8" stroke="#3d5793" stroke-width="0.95"/>
<line x1="143.15" y1="246.00" x2="145.20" y2="246.00" stroke="#3d5793" stroke-width="0.9"/>
<rect x="160.47" y="226.82" width="1.95" height="2.85" fill="#fff" stroke="#3d5793" stroke-width="0.95"/>
<line x1="160.50" y1="228.30" x2="162.40" y2="228.30" stroke="#3d5793" stroke-width="0.9"/>
<rect x="168.57" y="213.67" width="2.20" height="4.75" fill="#fff" stroke="#6c3a8e" stroke-width="0.95"/>
<line x1="168.60" y1="216.00" x2="170.75" y2="216.00" stroke="#6c3a8e" stroke-width="0.9"/>
<rect x="171.38" y="244.32" width="2.25" height="7.85" fill="#775b91" stroke="#6c3a8e" stroke-width="0.95"/>
<line x1="171.40" y1="247.00" x2="173.60" y2="247.00" stroke="#6c3a8e" stroke-width="0.9"/>
<rect x="174.22" y="207.47" width="2.20" height="4.85" fill="#fff" stroke="#6aae45" stroke-width="0.95"/>
<line x1="174.25" y1="209.50" x2="176.40" y2="209.50" stroke="#6aae45" stroke-width="0.9"/>
<rect x="180.47" y="222.82" width="2.15" height="3.20" fill="#fff" stroke="#3d5793" stroke-width="0.95"/>
<line x1="180.50" y1="224.50" x2="182.60" y2="224.50" stroke="#3d5793" stroke-width="0.9"/>
<rect x="188.57" y="211.17" width="2.45" height="4.85" fill="#fff" stroke="#6c3a8e" stroke-width="0.95"/>
<line x1="188.60" y1="213.60" x2="191.00" y2="213.60" stroke="#6c3a8e" stroke-width="0.9"/>
<rect x="191.62" y="244.57" width="2.00" height="12.75" fill="#775b91" stroke="#6c3a8e" stroke-width="0.95"/>
<line x1="191.65" y1="248.00" x2="193.60" y2="248.00" stroke="#6c3a8e" stroke-width="0.9"/>
<rect x="194.47" y="208.67" width="2.15" height="2.65" fill="#fff" stroke="#6aae45" stroke-width="0.95"/>
<line x1="194.50" y1="210.00" x2="196.60" y2="210.00" stroke="#6aae45" stroke-width="0.9"/>
<rect x="200.72" y="218.88" width="1.90" height="6.05" fill="#fff" stroke="#3d5793" stroke-width="0.95"/>
<line x1="200.75" y1="221.50" x2="202.60" y2="221.50" stroke="#3d5793" stroke-width="0.9"/>
<rect x="208.97" y="207.82" width="2.05" height="5.60" fill="#fff" stroke="#6c3a8e" stroke-width="0.95"/>
<line x1="209.00" y1="210.50" x2="211.00" y2="210.50" stroke="#6c3a8e" stroke-width="0.9"/>
<rect x="211.62" y="248.57" width="2.40" height="26.15" fill="#775b91" stroke="#6c3a8e" stroke-width="0.95"/>
<line x1="211.65" y1="252.00" x2="214.00" y2="252.00" stroke="#6c3a8e" stroke-width="0.9"/>
<rect x="214.57" y="204.97" width="1.85" height="4.70" fill="#fff" stroke="#6aae45" stroke-width="0.95"/>
<line x1="214.60" y1="207.50" x2="216.40" y2="207.50" stroke="#6aae45" stroke-width="0.9"/>
<polygon points="66.60,266.65 68.35,268.40 66.60,270.15 64.85,268.40" fill="#a80f2e"/>
<polygon points="86.60,266.65 88.35,268.40 86.60,270.15 84.85,268.40" fill="#a80f2e"/>
<polygon points="106.60,266.65 108.35,268.40 106.60,270.15 104.85,268.40" fill="#a80f2e"/>
<polygon points="126.90,266.65 128.65,268.40 126.90,270.15 125.15,268.40" fill="#a80f2e"/>
<polygon points="147.10,266.65 148.85,268.40 147.10,270.15 145.35,268.40" fill="#a80f2e"/>
<polygon points="166.90,242.00 168.65,243.75 166.90,245.50 165.15,243.75" fill="#a80f2e"/>
<polygon points="187.10,242.00 188.85,243.75 187.10,245.50 185.35,243.75" fill="#a80f2e"/>
<polygon points="207.20,222.00 208.95,223.75 207.20,225.50 205.45,223.75" fill="#a80f2e"/>
<text x="266.20" y="170.60" font-size="11.6" text-anchor="start" font-weight="bold" fill="#000" stroke="#000" stroke-width="0.12">D</text>
<line x1="316.90" y1="168.10" x2="316.90" y2="275.90" stroke="#1a1a1a" stroke-width="1.3" stroke-linecap="butt"/>
<line x1="313.90" y1="171.00" x2="316.90" y2="171.00" stroke="#1a1a1a" stroke-width="1.1" stroke-linecap="butt"/>
<text x="310.30" y="175.10" font-size="7.8" text-anchor="end" fill="#000" stroke="#000" stroke-width="0.12">10<tspan font-size="5.1" dx="0.6" dy="-3.3">12</tspan></text>
<line x1="313.90" y1="190.68" x2="316.90" y2="190.68" stroke="#1a1a1a" stroke-width="1.1" stroke-linecap="butt"/>
<text x="310.30" y="194.78" font-size="7.8" text-anchor="end" fill="#000" stroke="#000" stroke-width="0.12">10<tspan font-size="5.1" dx="0.6" dy="-3.3">11</tspan></text>
<line x1="313.90" y1="210.36" x2="316.90" y2="210.36" stroke="#1a1a1a" stroke-width="1.1" stroke-linecap="butt"/>
<text x="310.30" y="214.46" font-size="7.8" text-anchor="end" fill="#000" stroke="#000" stroke-width="0.12">10<tspan font-size="5.1" dx="0.6" dy="-3.3">10</tspan></text>
<line x1="313.90" y1="230.04" x2="316.90" y2="230.04" stroke="#1a1a1a" stroke-width="1.1" stroke-linecap="butt"/>
<text x="310.30" y="234.14" font-size="7.8" text-anchor="end" fill="#000" stroke="#000" stroke-width="0.12">10<tspan font-size="5.1" dx="0.6" dy="-3.3">9</tspan></text>
<line x1="313.90" y1="249.72" x2="316.90" y2="249.72" stroke="#1a1a1a" stroke-width="1.1" stroke-linecap="butt"/>
<text x="310.30" y="253.82" font-size="7.8" text-anchor="end" fill="#000" stroke="#000" stroke-width="0.12">10<tspan font-size="5.1" dx="0.6" dy="-3.3">8</tspan></text>
<line x1="313.90" y1="269.40" x2="316.90" y2="269.40" stroke="#1a1a1a" stroke-width="1.1" stroke-linecap="butt"/>
<text x="310.30" y="273.50" font-size="7.8" text-anchor="end" fill="#000" stroke="#000" stroke-width="0.12">10<tspan font-size="5.1" dx="0.6" dy="-3.3">7</tspan></text>
<line x1="316.25" y1="275.25" x2="481.25" y2="275.25" stroke="#1a1a1a" stroke-width="1.3" stroke-linecap="butt"/>
<line x1="326.80" y1="275.20" x2="326.80" y2="278.80" stroke="#1a1a1a" stroke-width="1.2" stroke-linecap="butt"/>
<text x="0.00" y="0.00" font-size="7.6" text-anchor="end" font-weight="normal" fill="#000" stroke="#000" stroke-width="0.12" transform="translate(330.00,287.2) rotate(-45)">B</text>
<line x1="346.95" y1="275.20" x2="346.95" y2="278.80" stroke="#1a1a1a" stroke-width="1.2" stroke-linecap="butt"/>
<text x="0.00" y="0.00" font-size="7.6" text-anchor="end" font-weight="normal" fill="#000" stroke="#000" stroke-width="0.12" transform="translate(350.15,287.2) rotate(-45)">ED1</text>
<line x1="367.10" y1="275.20" x2="367.10" y2="278.80" stroke="#1a1a1a" stroke-width="1.2" stroke-linecap="butt"/>
<text x="0.00" y="0.00" font-size="7.6" text-anchor="end" font-weight="normal" fill="#000" stroke="#000" stroke-width="0.12" transform="translate(370.30,287.2) rotate(-45)">ED5</text>
<line x1="387.25" y1="275.20" x2="387.25" y2="278.80" stroke="#1a1a1a" stroke-width="1.2" stroke-linecap="butt"/>
<text x="0.00" y="0.00" font-size="7.6" text-anchor="end" font-weight="normal" fill="#000" stroke="#000" stroke-width="0.12" transform="translate(390.45,287.2) rotate(-45)">ED10</text>
<line x1="407.40" y1="275.20" x2="407.40" y2="278.80" stroke="#1a1a1a" stroke-width="1.2" stroke-linecap="butt"/>
<text x="0.00" y="0.00" font-size="7.6" text-anchor="end" font-weight="normal" fill="#000" stroke="#000" stroke-width="0.12" transform="translate(410.60,287.2) rotate(-45)">ED23</text>
<line x1="427.55" y1="275.20" x2="427.55" y2="278.80" stroke="#1a1a1a" stroke-width="1.2" stroke-linecap="butt"/>
<text x="0.00" y="0.00" font-size="7.6" text-anchor="end" font-weight="normal" fill="#000" stroke="#000" stroke-width="0.12" transform="translate(430.75,287.2) rotate(-45)">ED32</text>
<line x1="447.70" y1="275.20" x2="447.70" y2="278.80" stroke="#1a1a1a" stroke-width="1.2" stroke-linecap="butt"/>
<text x="0.00" y="0.00" font-size="7.6" text-anchor="end" font-weight="normal" fill="#000" stroke="#000" stroke-width="0.12" transform="translate(450.90,287.2) rotate(-45)">ED43</text>
<line x1="467.85" y1="275.20" x2="467.85" y2="278.80" stroke="#1a1a1a" stroke-width="1.2" stroke-linecap="butt"/>
<text x="0.00" y="0.00" font-size="7.6" text-anchor="end" font-weight="normal" fill="#000" stroke="#000" stroke-width="0.12" transform="translate(471.05,287.2) rotate(-45)">ED52</text>
<line x1="478.75" y1="168.50" x2="478.75" y2="236.25" stroke="#1a1a1a" stroke-width="1.3" stroke-linecap="butt"/>
<line x1="478.75" y1="239.10" x2="478.75" y2="258.75" stroke="#1a1a1a" stroke-width="1.3" stroke-linecap="butt"/>
<line x1="478.75" y1="261.25" x2="478.75" y2="275.90" stroke="#1a1a1a" stroke-width="1.3" stroke-linecap="butt"/>
<line x1="476.95" y1="236.25" x2="480.55" y2="236.25" stroke="#1a1a1a" stroke-width="1.1" stroke-linecap="butt"/>
<line x1="476.95" y1="239.10" x2="480.55" y2="239.10" stroke="#1a1a1a" stroke-width="1.1" stroke-linecap="butt"/>
<line x1="476.95" y1="258.75" x2="480.55" y2="258.75" stroke="#1a1a1a" stroke-width="1.1" stroke-linecap="butt"/>
<line x1="476.95" y1="261.25" x2="480.55" y2="261.25" stroke="#1a1a1a" stroke-width="1.1" stroke-linecap="butt"/>
<line x1="478.75" y1="171.30" x2="481.05" y2="171.30" stroke="#1a1a1a" stroke-width="1.1" stroke-linecap="butt"/>
<text x="484.45" y="174.30" font-size="8.6" text-anchor="start" font-weight="normal" fill="#000" stroke="#000" stroke-width="0.12">350</text>
<line x1="478.75" y1="181.00" x2="481.05" y2="181.00" stroke="#1a1a1a" stroke-width="1.1" stroke-linecap="butt"/>
<text x="484.45" y="184.00" font-size="8.6" text-anchor="start" font-weight="normal" fill="#000" stroke="#000" stroke-width="0.12">300</text>
<line x1="478.75" y1="190.60" x2="481.05" y2="190.60" stroke="#1a1a1a" stroke-width="1.1" stroke-linecap="butt"/>
<text x="484.45" y="193.60" font-size="8.6" text-anchor="start" font-weight="normal" fill="#000" stroke="#000" stroke-width="0.12">250</text>
<line x1="478.75" y1="200.30" x2="481.05" y2="200.30" stroke="#1a1a1a" stroke-width="1.1" stroke-linecap="butt"/>
<text x="484.45" y="203.30" font-size="8.6" text-anchor="start" font-weight="normal" fill="#000" stroke="#000" stroke-width="0.12">200</text>
<line x1="478.75" y1="210.00" x2="481.05" y2="210.00" stroke="#1a1a1a" stroke-width="1.1" stroke-linecap="butt"/>
<text x="484.45" y="213.00" font-size="8.6" text-anchor="start" font-weight="normal" fill="#000" stroke="#000" stroke-width="0.12">150</text>
<line x1="478.75" y1="219.70" x2="481.05" y2="219.70" stroke="#1a1a1a" stroke-width="1.1" stroke-linecap="butt"/>
<text x="484.45" y="222.70" font-size="8.6" text-anchor="start" font-weight="normal" fill="#000" stroke="#000" stroke-width="0.12">100</text>
<line x1="478.75" y1="229.40" x2="481.05" y2="229.40" stroke="#1a1a1a" stroke-width="1.1" stroke-linecap="butt"/>
<text x="484.45" y="232.40" font-size="8.6" text-anchor="start" font-weight="normal" fill="#000" stroke="#000" stroke-width="0.12">50</text>
<line x1="478.75" y1="250.00" x2="481.05" y2="250.00" stroke="#1a1a1a" stroke-width="1.1" stroke-linecap="butt"/>
<text x="484.45" y="253.00" font-size="8.6" text-anchor="start" font-weight="normal" fill="#000" stroke="#000" stroke-width="0.12">5</text>
<line x1="478.75" y1="265.25" x2="481.05" y2="265.25" stroke="#1a1a1a" stroke-width="1.1" stroke-linecap="butt"/>
<text x="484.45" y="268.25" font-size="8.6" text-anchor="start" font-weight="normal" fill="#000" stroke="#000" stroke-width="0.12">0.4</text>
<line x1="478.75" y1="275.25" x2="481.05" y2="275.25" stroke="#1a1a1a" stroke-width="1.1" stroke-linecap="butt"/>
<text x="484.45" y="278.25" font-size="8.6" text-anchor="start" font-weight="normal" fill="#000" stroke="#000" stroke-width="0.12">0.0</text>
<text x="484.45" y="242.10" font-size="8.6" text-anchor="start" font-weight="normal" fill="#000" stroke="#000" stroke-width="0.12">10</text>
<text x="484.45" y="261.05" font-size="8.6" text-anchor="start" font-weight="normal" fill="#000" stroke="#000" stroke-width="0.12">0.6</text>
<text x="0.00" y="0.00" font-size="9.6" text-anchor="start" font-weight="normal" fill="#000" stroke="#000" stroke-width="0.32" textLength="67.30" lengthAdjust="spacingAndGlyphs" transform="translate(504.80,189.40) rotate(90)">FVIII inhibitor [BU/ml]</text>
<text transform="translate(285.90,255.60) rotate(-90)" font-size="8.9" font-weight="bold" fill="#111" stroke="#111" stroke-width="0.05" textLength="67.50" lengthAdjust="spacingAndGlyphs">Mean K<tspan font-size="6" dy="1.5">A</tspan><tspan dy="-1.5"> ±95% CI [M</tspan><tspan font-size="6" dy="-3.3">-1</tspan><tspan dy="3.3">]</tspan></text>
<text x="361.60" y="314.90" font-size="10.4" text-anchor="start" font-weight="normal" fill="#000" stroke="#000" stroke-width="0.26" textLength="71.60" lengthAdjust="spacingAndGlyphs">Observation time [days]</text>
<line x1="317.80" y1="259.00" x2="477.25" y2="259.00" stroke="#c02a58" stroke-width="1.25" stroke-linecap="butt" stroke-dasharray="1.2,1.3"/>
<rect x="379.88" y="209.07" width="3.40" height="4.75" fill="#fff" stroke="#233a78" stroke-width="0.95"/>
<line x1="379.90" y1="210.30" x2="383.25" y2="210.30" stroke="#233a78" stroke-width="0.9"/>
<rect x="389.48" y="195.82" width="2.95" height="9.20" fill="#fff" stroke="#6c3a8e" stroke-width="0.95"/>
<line x1="389.50" y1="198.00" x2="392.40" y2="198.00" stroke="#6c3a8e" stroke-width="0.9"/>
<rect x="403.48" y="219.67" width="3.15" height="8.65" fill="#fff" stroke="#e5982e" stroke-width="0.95"/>
<line x1="403.50" y1="221.20" x2="406.60" y2="221.20" stroke="#e5982e" stroke-width="0.9"/>
<rect x="423.48" y="221.77" width="3.15" height="8.25" fill="#fff" stroke="#e5982e" stroke-width="0.95"/>
<line x1="423.50" y1="224.70" x2="426.60" y2="224.70" stroke="#e5982e" stroke-width="0.9"/>
<rect x="444.23" y="218.67" width="2.40" height="7.25" fill="#fff" stroke="#e5982e" stroke-width="0.95"/>
<line x1="444.25" y1="221.00" x2="446.60" y2="221.00" stroke="#e5982e" stroke-width="0.9"/>
<rect x="412.58" y="186.77" width="3.15" height="10.35" fill="#fff" stroke="#6aae45" stroke-width="0.95"/>
<line x1="412.60" y1="188.00" x2="415.70" y2="188.00" stroke="#6aae45" stroke-width="0.9"/>
<rect x="433.38" y="186.57" width="2.65" height="10.95" fill="#fff" stroke="#6aae45" stroke-width="0.95"/>
<line x1="433.40" y1="188.50" x2="436.00" y2="188.50" stroke="#6aae45" stroke-width="0.9"/>
<rect x="473.58" y="186.82" width="2.85" height="8.85" fill="#fff" stroke="#6aae45" stroke-width="0.95"/>
<line x1="473.60" y1="189.00" x2="476.40" y2="189.00" stroke="#6aae45" stroke-width="0.9"/>
<rect x="430.18" y="220.27" width="2.75" height="3.05" fill="#fff" stroke="#233a78" stroke-width="0.95"/>
<rect x="409.6" y="228.0" width="3.4" height="1.7" fill="#233a78"/>
<rect x="400.20" y="189.8" width="3.40" height="1.8" fill="#8095c4"/>
<rect x="400.80" y="187.1" width="2.2" height="1.7" fill="#333"/>
<rect x="420.20" y="189.8" width="3.50" height="1.8" fill="#8095c4"/>
<rect x="420.85" y="187.1" width="2.2" height="1.7" fill="#333"/>
<rect x="441.00" y="189.8" width="3.20" height="1.8" fill="#8095c4"/>
<rect x="441.50" y="187.1" width="2.2" height="1.7" fill="#333"/>
<rect x="461.20" y="189.8" width="3.20" height="1.8" fill="#8095c4"/>
<rect x="461.70" y="187.1" width="2.2" height="1.7" fill="#333"/>
<rect x="453.50" y="189.8" width="3.10" height="1.8" fill="#9ccc80"/>
<rect x="453.95" y="187.1" width="2.2" height="1.7" fill="#333"/>
<polygon points="326.90,266.45 328.85,268.40 326.90,270.35 324.95,268.40" fill="#a80f2e"/>
<polygon points="367.30,266.35 369.25,268.30 367.30,270.25 365.35,268.30" fill="#a80f2e"/>
<polygon points="387.80,245.65 389.75,247.60 387.80,249.55 385.85,247.60" fill="#a80f2e"/>
<polygon points="407.75,174.55 409.70,176.50 407.75,178.45 405.80,176.50" fill="#a80f2e"/>
<polygon points="428.10,203.05 430.05,205.00 428.10,206.95 426.15,205.00" fill="#a80f2e"/>
<polygon points="448.75,220.30 450.70,222.25 448.75,224.20 446.80,222.25" fill="#a80f2e"/>
<polygon points="469.00,228.65 470.95,230.60 469.00,232.55 467.05,230.60" fill="#a80f2e"/>
<rect x="66.80" y="328.40" width="3.6" height="3.6" fill="#fff" stroke="#3d5793" stroke-width="1.1"/>
<text x="74.00" y="332.70" font-size="7.5" text-anchor="start" font-weight="normal" fill="#000" stroke="#000" stroke-width="0.12">IgG1 Population 1</text>
<rect x="66.80" y="338.95" width="3.6" height="3.6" fill="#3d5793" stroke="#3d5793" stroke-width="1.1"/>
<text x="74.00" y="343.25" font-size="7.5" text-anchor="start" font-weight="normal" fill="#000" stroke="#000" stroke-width="0.12">IgG1 Population 2</text>
<rect x="66.80" y="349.60" width="3.6" height="3.6" fill="#fff" stroke="#6aae45" stroke-width="1.1"/>
<text x="74.00" y="353.90" font-size="7.5" text-anchor="start" font-weight="normal" fill="#000" stroke="#000" stroke-width="0.12">IgG4 Population 1</text>
<rect x="142.80" y="328.40" width="3.6" height="3.6" fill="#fff" stroke="#6c3a8e" stroke-width="1.1"/>
<text x="150.00" y="332.70" font-size="7.5" text-anchor="start" font-weight="normal" fill="#000" stroke="#000" stroke-width="0.12">IgG3 Population 1</text>
<rect x="142.80" y="338.95" width="3.6" height="3.6" fill="#6c3a8e" stroke="#6c3a8e" stroke-width="1.1"/>
<text x="150.00" y="343.25" font-size="7.5" text-anchor="start" font-weight="normal" fill="#000" stroke="#000" stroke-width="0.12">IgG3 Population 2</text>
<polygon points="144.60,349.70 146.30,351.40 144.60,353.10 142.90,351.40" fill="#a80f2e"/>
<text x="150.00" y="353.90" font-size="7.5" text-anchor="start" font-weight="normal" fill="#000" stroke="#000" stroke-width="0.12">BU/ml</text>
<rect x="326.80" y="328.40" width="3.6" height="3.6" fill="#fff" stroke="#3d5793" stroke-width="1.1"/>
<text x="334.00" y="332.70" font-size="7.5" text-anchor="start" font-weight="normal" fill="#000" stroke="#000" stroke-width="0.12">IgG1 Population 1</text>
<rect x="326.80" y="338.95" width="3.6" height="3.6" fill="#fff" stroke="#e5982e" stroke-width="1.1"/>
<text x="334.00" y="343.25" font-size="7.5" text-anchor="start" font-weight="normal" fill="#000" stroke="#000" stroke-width="0.12">IgG2 Population 1</text>
<rect x="326.80" y="349.60" width="3.6" height="3.6" fill="#fff" stroke="#6c3a8e" stroke-width="1.1"/>
<text x="334.00" y="353.90" font-size="7.5" text-anchor="start" font-weight="normal" fill="#000" stroke="#000" stroke-width="0.12">IgG3 Population 1</text>
<rect x="402.20" y="328.40" width="3.6" height="3.6" fill="#fff" stroke="#6aae45" stroke-width="1.1"/>
<text x="409.40" y="332.70" font-size="7.5" text-anchor="start" font-weight="normal" fill="#000" stroke="#000" stroke-width="0.12">IgG4 Population 1</text>
<circle cx="404.00" cy="340.75" r="1.5" fill="#a80f2e"/>
<text x="409.40" y="343.25" font-size="7.5" text-anchor="start" font-weight="normal" fill="#000" stroke="#000" stroke-width="0.12">BU/ml</text>
<rect x="0" y="0" width="520" height="1.15" fill="#000"/>
<rect x="0" y="0" width="1.25" height="363" fill="#000"/>
<rect x="518.6" y="0" width="1.4" height="363" fill="#000"/>
<rect x="0" y="361.35" width="520" height="1.65" fill="#000"/>
</svg></body></html>
